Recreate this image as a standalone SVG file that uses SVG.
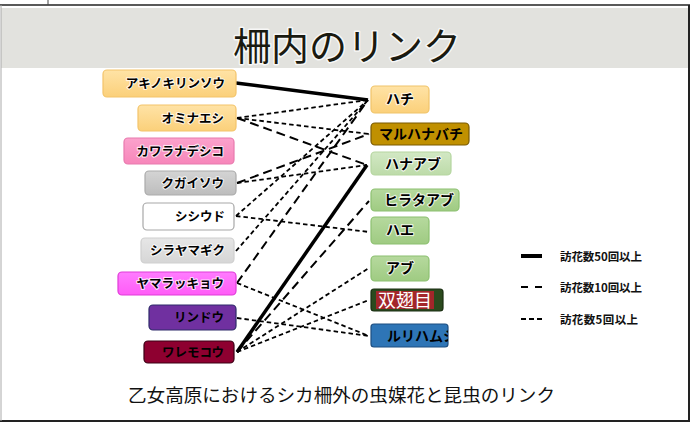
<svg xmlns="http://www.w3.org/2000/svg" width="699" height="427" viewBox="0 0 699 427">
<style>
.lbl{font-family:"Noto Sans CJK JP","Noto Sans",sans-serif;font-weight:bold;font-size:12.5px;fill:#000;text-anchor:end}
.rl{font-family:"Noto Sans CJK JP","Noto Sans",sans-serif;font-weight:bold;font-size:14px;fill:#000;text-anchor:middle}
.halo{paint-order:stroke;stroke:#fff;stroke-width:2.2px;stroke-opacity:0.75;stroke-linejoin:round}
.box{stroke-width:1.2}
.thick{stroke:#000;stroke-width:3.5;fill:none}
.d10{stroke:#000;stroke-width:2;stroke-dasharray:9 5;fill:none}
.d5{stroke:#000;stroke-width:1.8;stroke-dasharray:4.5 3;fill:none}
.leg{font-family:"Noto Sans CJK JP","Noto Sans",sans-serif;font-weight:bold;font-size:11.5px;fill:#111}
</style>
<defs>
<linearGradient id="gY" x1="0" y1="0" x2="0" y2="1"><stop offset="0" stop-color="#ffe3a6"/><stop offset="1" stop-color="#fbd07a"/></linearGradient>
<linearGradient id="gP" x1="0" y1="0" x2="0" y2="1"><stop offset="0" stop-color="#fba2cc"/><stop offset="1" stop-color="#f786ba"/></linearGradient>
<linearGradient id="gG" x1="0" y1="0" x2="0" y2="1"><stop offset="0" stop-color="#d4d4d4"/><stop offset="1" stop-color="#bdbdbd"/></linearGradient>
<linearGradient id="gLG" x1="0" y1="0" x2="0" y2="1"><stop offset="0" stop-color="#e6e6e6"/><stop offset="1" stop-color="#d6d6d6"/></linearGradient>
<linearGradient id="gM" x1="0" y1="0" x2="0" y2="1"><stop offset="0" stop-color="#ff7cff"/><stop offset="1" stop-color="#ff5cf7"/></linearGradient>
<linearGradient id="gGr1" x1="0" y1="0" x2="0" y2="1"><stop offset="0" stop-color="#d2e8c4"/><stop offset="1" stop-color="#bddba9"/></linearGradient>
<linearGradient id="gGr2" x1="0" y1="0" x2="0" y2="1"><stop offset="0" stop-color="#b6d99e"/><stop offset="1" stop-color="#9fcb82"/></linearGradient>
<clipPath id="clipR"><rect x="371" y="324" width="77" height="23" rx="3"/></clipPath>
</defs>

<!-- frame and title band -->
<rect x="1" y="8" width="688" height="60" fill="#e2e2de"/>
<line x1="0" y1="5" x2="690" y2="5" stroke="#222" stroke-width="1.6"/>
<line x1="48" y1="0" x2="48" y2="5" stroke="#444" stroke-width="1"/>
<line x1="689" y1="5" x2="689" y2="421" stroke="#222" stroke-width="2"/>
<line x1="0" y1="421" x2="690" y2="421" stroke="#222" stroke-width="2"/>
<line x1="1" y1="5" x2="1" y2="421" stroke="#aaa" stroke-width="1"/>
<text x="347" y="60" font-family="'Noto Sans CJK JP','Noto Sans',sans-serif" font-size="38" fill="#1a1a10" text-anchor="middle" class="halo" style="stroke-width:3">柵内のリンク</text>

<!-- connectors -->
<g id="connectors">
<line class="thick" x1="236" y1="83" x2="368" y2="100"/>
<line class="thick" x1="237" y1="352" x2="367" y2="165"/>
<line class="d10" x1="237" y1="118" x2="367" y2="165"/>
<line class="d10" x1="237" y1="183" x2="369" y2="134"/>
<line class="d10" x1="237" y1="283" x2="368" y2="100"/>
<line class="d10" x1="237" y1="352" x2="369" y2="201"/>
<line class="d5" x1="237" y1="118" x2="368" y2="100"/>
<line class="d5" x1="237" y1="118" x2="369" y2="134"/>
<line class="d5" x1="237" y1="183" x2="367" y2="165"/>
<line class="d5" x1="236" y1="216" x2="368" y2="100"/>
<line class="d5" x1="236" y1="216" x2="369" y2="232"/>
<line class="d5" x1="236" y1="251" x2="368" y2="100"/>
<line class="d5" x1="237" y1="283" x2="369" y2="336"/>
<line class="d5" x1="237" y1="318" x2="369" y2="336"/>
<line class="d5" x1="237" y1="352" x2="369" y2="268"/>
<line class="d5" x1="237" y1="352" x2="369" y2="300"/>
</g>

<!-- left nodes (plants) -->
<g id="n-akinokirinsou"><rect class="box" x="103" y="70" width="133" height="27" rx="4" fill="url(#gY)" stroke="#f3c46a"/><text class="lbl halo" x="225" y="88">アキノキリンソウ</text></g>
<g id="n-ominaeshi"><rect class="box" x="138" y="105" width="98" height="26" rx="4" fill="url(#gY)" stroke="#f3c46a"/><text class="lbl halo" x="224" y="123">オミナエシ</text></g>
<g id="n-kawaranadeshiko"><rect class="box" x="124" y="138" width="110" height="26" rx="4" fill="url(#gP)" stroke="#e87aae"/><text class="lbl halo" x="224" y="156">カワラナデシコ</text></g>
<g id="n-kugaisou"><rect class="box" x="145" y="171" width="91" height="24" rx="4" fill="url(#gG)" stroke="#ababab"/><text class="lbl halo" x="224" y="188">クガイソウ</text></g>
<g id="n-shishiudo"><rect class="box" x="143" y="203" width="91" height="27" rx="4" fill="#ffffff" stroke="#a8a8a8"/><text class="lbl halo" x="225" y="221">シシウド</text></g>
<g id="n-shirayamagiku"><rect class="box" x="141" y="238" width="93" height="25" rx="4" fill="url(#gLG)" stroke="#cfcfcf"/><text class="lbl halo" x="225" y="255">シラヤマギク</text></g>
<g id="n-yamarakkyou"><rect class="box" x="118" y="272" width="118" height="23" rx="4" fill="url(#gM)" stroke="#e03cd8"/><text class="lbl halo" x="224" y="288">ヤマラッキョウ</text></g>
<g id="n-rindou"><rect class="box" x="149" y="305" width="87" height="25" rx="4" fill="#7030a0" stroke="#2e2a6a"/><text class="lbl" x="224" y="322">リンドウ</text></g>
<g id="n-waremokou"><rect class="box" x="144" y="341" width="90" height="22" rx="4" fill="#8e0030" stroke="#3a0015"/><text class="lbl" x="224" y="357">ワレモコウ</text></g>

<!-- right nodes (insects) -->
<g id="n-hachi"><rect class="box" x="371" y="86" width="58" height="27" rx="4" fill="url(#gY)" stroke="#f0c46a"/><text class="rl halo" x="400" y="104">ハチ</text></g>
<g id="n-maruhanabachi"><rect class="box" x="371" y="123" width="98" height="22" rx="4" fill="#c09000" stroke="#7a5a00"/><text class="rl" x="421" y="139">マルハナバチ</text></g>
<g id="n-hanaabu"><rect class="box" x="371" y="152" width="80" height="23" rx="4" fill="url(#gGr1)" stroke="#b5d6a0"/><text class="rl halo" x="413" y="169">ハナアブ</text></g>
<g id="n-hirataabu"><rect class="box" x="371" y="189" width="88" height="22" rx="4" fill="url(#gGr2)" stroke="#8cc070"/><text class="rl halo" x="419" y="205">ヒラタアブ</text></g>
<g id="n-hae"><rect class="box" x="371" y="217" width="58" height="27" rx="4" fill="url(#gGr2)" stroke="#8cc070"/><text class="rl halo" x="400" y="235">ハエ</text></g>
<g id="n-abu"><rect class="box" x="371" y="256" width="58" height="25" rx="4" fill="url(#gGr2)" stroke="#8cc070"/><text class="rl halo" x="400" y="273">アブ</text></g>
<g id="n-soushimoku"><rect class="box" x="371" y="289" width="72" height="22" rx="3" fill="#2b4a1e" stroke="#1a2e12"/><rect x="376" y="291" width="58" height="18" fill="#a3262a"/><text x="405" y="306.5" font-family="'Noto Sans CJK JP','Noto Sans',sans-serif" font-size="18" fill="#fff" text-anchor="middle">双翅目</text></g>
<g id="n-rurihamushi"><rect class="box" x="371" y="324" width="77" height="23" rx="3" fill="#2e75b6" stroke="#1d4e80"/><text class="rl" x="387" y="341" style="text-anchor:start" fill="#111" clip-path="url(#clipR)">ルリハムシ</text></g>

<!-- legend -->
<g id="legend">
<line x1="521" y1="256" x2="542" y2="256" stroke="#000" stroke-width="4"/>
<text class="leg" x="560" y="260.5" textLength="82">訪花数50回以上</text>
<line x1="521" y1="287" x2="542" y2="287" stroke="#000" stroke-width="2.2" stroke-dasharray="7 7"/>
<text class="leg" x="560" y="291.5" textLength="82">訪花数10回以上</text>
<line x1="521" y1="319" x2="542" y2="319" stroke="#000" stroke-width="2" stroke-dasharray="5 3"/>
<text class="leg" x="560" y="323.5" textLength="78">訪花数5回以上</text>
</g>

<text x="128" y="402" font-family="'Noto Sans CJK JP','Noto Sans',sans-serif" font-size="18" fill="#111" textLength="427" lengthAdjust="spacingAndGlyphs">乙女高原におけるシカ柵外の虫媒花と昆虫のリンク</text>
</svg>
